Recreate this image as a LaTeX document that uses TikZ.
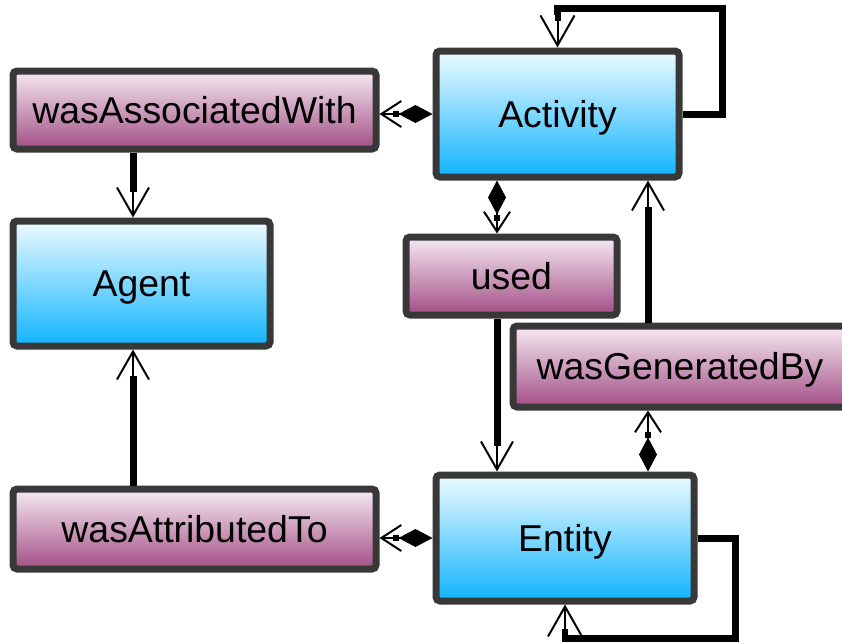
\documentclass[tikz,border=0pt]{standalone}
\usepackage{fontspec}
\setmainfont{Liberation Sans}
\usetikzlibrary{arrows.meta}
\definecolor{boxGray}{HTML}{383838}
\definecolor{purpleTop}{HTML}{F6EAF2}
\definecolor{purpleBottom}{HTML}{A24E86}
\definecolor{blueTop}{HTML}{EEFBFF}
\definecolor{blueBottom}{HTML}{0FB4FF}
\begin{document}
\begin{tikzpicture}[
  x=0.5pt, y=-0.5pt,
  every node/.style={rectangle, rounded corners=2pt, draw=boxGray, line width=3.5pt, inner sep=0pt, font=\fontsize{18.7}{22}\selectfont, text=black, text height=13.4pt, text depth=0pt},
  nodePurple/.style={top color=purpleTop, bottom color=purpleBottom, minimum height=39pt},
  nodeBlue/.style={top color=blueTop, bottom color=blueBottom, minimum height=63pt},
  linkThick/.style={line width=3.5pt}, % thick part of the links
  linkStrong/.style={line width=1pt, -{Straight Barb[length=14pt,width=16pt]},
    preaction={draw, line width=3.5pt, shorten >=13pt, arrows=-}},
  linkDiamond/.style={line width=1pt, {Diamond[length=17pt,width=9pt]Square[length=3pt,width=3pt]}-{Straight Barb[length=10pt,width=13pt]}},
  linkLoop/.style={line width=1pt, {Square[length=3pt,width=3pt]}-{Straight Barb[length=15pt,width=17pt]}}
  ]
  \useasboundingbox (0,0) rectangle (842,643);
  \clip (0,0) rectangle (842,643);
  \node[nodePurple, minimum width=181.5pt] (wasAssociatedWith) at (194.5,110) {wasAssociatedWith};
  \node[nodeBlue, minimum width=121.5pt] (Activity) at (557.5,114) {Activity};
  \node[nodeBlue, minimum width=128.5pt, minimum height=62.5pt] (Agent) at (141.5,283.5) {Agent};
  \node[nodePurple, minimum width=105.5pt] (used) at (511.5,276) {used};
  \node[nodePurple, minimum width=167pt, minimum height=40.5pt] (wasGeneratedBy) at (680,366.5) {wasGeneratedBy};
  \node[nodePurple, minimum width=181.5pt, minimum height=40pt] (wasAttributedTo) at (194.5,529) {wasAttributedTo};
  \node[nodeBlue, minimum width=129pt] (Entity) at (565,538) {Entity};
  \coordinate (colL) at (133,0);
  \coordinate (colU) at (497,0);
  \coordinate (colG) at (648,0);
  \coordinate (loopA) at (722,8);
  \coordinate (loopE) at (735,638);
  \draw[linkDiamond] (Activity.west) -- (Activity.west -| wasAssociatedWith.east);
  \draw[linkDiamond] (Activity.south -| colU) -- (used.north -| colU);
  \draw[linkDiamond] (Entity.north -| colG) -- (wasGeneratedBy.south -| colG);
  \draw[linkDiamond] (Entity.west) -- (Entity.west -| wasAttributedTo.east);
  \draw[linkStrong] (wasAssociatedWith.south -| colL) -- (Agent.north -| colL);
  \draw[linkStrong] (wasAttributedTo.north -| colL) -- (Agent.south -| colL);
  \draw[linkStrong] (used.south -| colU) -- (Entity.north -| colU);
  \draw[linkStrong] (wasGeneratedBy.north -| colG) -- (Activity.south -| colG);
  \draw[linkThick, shorten >=16.5pt] (Activity.east) -| (loopA) -| (Activity.north);
  \draw[linkLoop] ([yshift=16.5pt]Activity.north) -- (Activity.north);
  \draw[linkThick, shorten >=15pt] (Entity.east) -| (loopE) -| (Entity.south);
  \draw[linkLoop] ([yshift=-15pt]Entity.south) -- (Entity.south);
\end{tikzpicture}
\end{document}
